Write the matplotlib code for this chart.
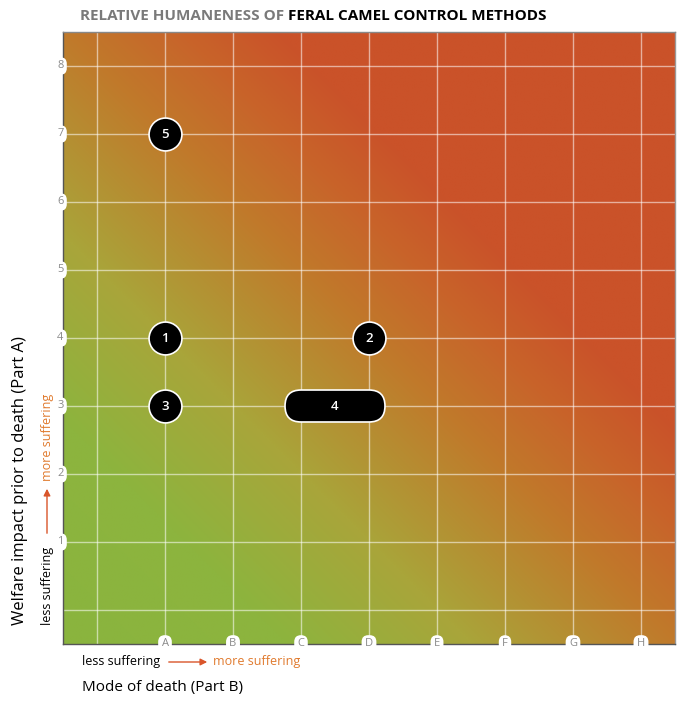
import numpy as np
import matplotlib
matplotlib.use("Agg")
import matplotlib.pyplot as plt
from matplotlib.colors import LinearSegmentedColormap
from matplotlib.patches import FancyBboxPatch, FancyArrowPatch

plt.rcParams['font.family'] = ['Open Sans', 'DejaVu Sans']

# ---- data ----
x_labels = ["A", "B", "C", "D", "E", "F", "G", "H"]
y_labels = ["1", "2", "3", "4", "5", "6", "7", "8"]
point_ids = ["5", "1", "3", "2"]
point_x = [1, 1, 1, 4]
point_y = [7, 4, 3, 4]
range_id = "4"
range_x = [3, 4]
range_y = 3

title_grey = "RELATIVE HUMANENESS OF "
title_black = "FERAL CAMEL CONTROL METHODS"

# gradient colour stops along (x + y)
grad_pos = [-1.0, 2.3, 5.0, 8.0, 9.7, 11.2, 17.0]
grad_col = ["#8ab43e", "#8db43e", "#a9a53a", "#c07a2b", "#c8642a", "#ca5229", "#ca5229"]

fig = plt.figure(figsize=(6.85, 7.02), dpi=100)
ax = fig.add_axes([63/685, 1-644/702, 612/685, 612/702])

# background gradient
lo, hi = grad_pos[0], grad_pos[-1]
cmap = LinearSegmentedColormap.from_list(
    "g", [((p - lo) / (hi - lo), c) for p, c in zip(grad_pos, grad_col)])
gx = np.linspace(-0.5, 8.5, 400)
gy = np.linspace(-0.5, 8.5, 400)
GX, GY = np.meshgrid(gx, gy)
ax.imshow(GX + GY, extent=(-0.5, 8.5, -0.5, 8.5), origin="lower",
          cmap=cmap, vmin=lo, vmax=hi, aspect="auto", zorder=0, interpolation="bilinear")

ax.set_xlim(-0.5, 8.5)
ax.set_ylim(-0.5, 8.5)

# grid
for v in range(0, 9):
    ax.axvline(v, color="white", alpha=0.55, lw=1, zorder=1)
    ax.axhline(v, color="white", alpha=0.55, lw=1, zorder=1)

ax.set_xticks([])
ax.set_yticks([])
for s in ax.spines.values():
    s.set_color("#555555")
    s.set_linewidth(1)
ax.spines['right'].set_color("#999999")
ax.spines['top'].set_color("#888888")

# tick labels in white boxes
bb = dict(boxstyle="round,pad=0.3,rounding_size=0.6", fc="white", ec="none")
for i, lab in enumerate(x_labels):
    ax.text(i + 1, -0.5, lab, ha="center", va="center", fontsize=8,
            color="#8a8a8a", bbox=bb, zorder=5, clip_on=False)
for i, lab in enumerate(y_labels):
    ax.text(-0.54, i + 1, lab, ha="center", va="center", fontsize=8,
            color="#8a8a8a", bbox=bb, zorder=5, clip_on=False)

# point markers
for pid, px, py in zip(point_ids, point_x, point_y):
    ax.scatter([px], [py], s=560, c="black", edgecolors="white", linewidths=1.2, zorder=6)
    ax.text(px, py, pid, ha="center", va="center", color="white",
            fontsize=9.5, fontweight="semibold", zorder=7)

# range marker
r = 0.235
pill = FancyBboxPatch((range_x[0], range_y), range_x[1] - range_x[0], 0,
                      boxstyle=f"round,pad={r},rounding_size={r}",
                      fc="black", ec="white", lw=1.2, zorder=6, mutation_aspect=1)
ax.add_patch(pill)
ax.text(np.mean(range_x), range_y, range_id, ha="center", va="center",
        color="white", fontsize=9.5, fontweight="semibold", zorder=7)

# title
t1 = fig.text(80/685, 1-16/702, title_grey, ha="left", va="center",
              fontsize=11, fontweight="bold", color="#7a7a7a")
fig.canvas.draw()
ext = t1.get_window_extent()
fig.text(ext.x1/fig.bbox.width, 1-16/702, title_black, ha="left", va="center",
         fontsize=11, fontweight="bold", color="black")

# x-axis annotations
orange = "#e07a2e"
arrow_c = "#d9552a"
fig.text(82/685, 1-661/702, "less suffering", ha="left", va="center", fontsize=9, color="black")
fig.text(213/685, 1-661/702, "more suffering", ha="left", va="center", fontsize=9, color=orange)
fig.add_artist(FancyArrowPatch(
    (166/685, 1-662/702), (210/685, 1-662/702), transform=fig.transFigure,
    arrowstyle="-|>,head_length=4,head_width=2", color=arrow_c, lw=1))
fig.text(82/685, 1-688/702, "Mode of death (Part B)", ha="left", va="center",
         fontsize=11, color="black")

# y-axis annotations
fig.text(47/685, 1-625/702, "less suffering", ha="center", va="bottom",
         rotation=90, fontsize=9, color="black")
fig.text(47/685, 1-481/702, "more suffering", ha="center", va="bottom",
         rotation=90, fontsize=9, color=orange)
fig.add_artist(FancyArrowPatch(
    (47/685, 1-536/702), (47/685, 1-486/702), transform=fig.transFigure,
    arrowstyle="-|>,head_length=4,head_width=2", color=arrow_c, lw=1))
fig.text(20/685, 1-625/702, "Welfare impact prior to death (Part A)", ha="center",
         va="bottom", rotation=90, fontsize=12, color="black")

fig.savefig("out.png", dpi=100)
